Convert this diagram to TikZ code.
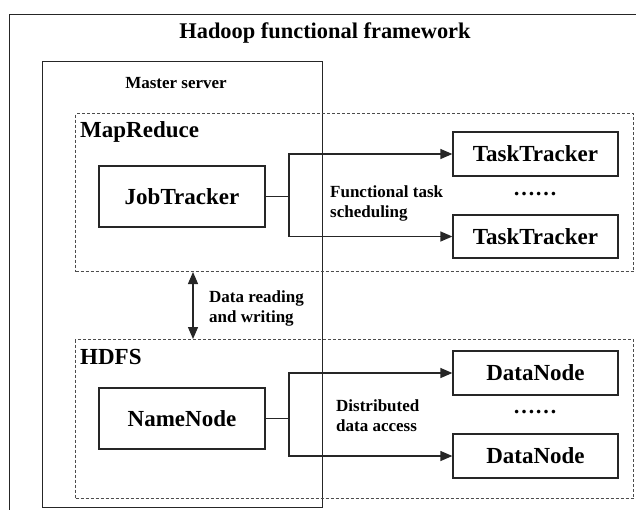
\documentclass[tikz,border=0pt]{standalone}
\usepackage{fontspec}
\setmainfont{Liberation Serif}
\usetikzlibrary{arrows.meta}
\begin{document}
\begin{tikzpicture}[x=1pt,y=-1pt,
  solidbox/.style={draw=black!85, line width=1.3pt, minimum width=166pt, inner sep=0pt, font=\bfseries\fontsize{23}{26}\selectfont},
  sidebox/.style={draw=black!85, line width=1.3pt, minimum width=165pt, minimum height=44pt, inner sep=0pt, font=\bfseries\fontsize{23}{26}\selectfont},
  dashbox/.style={draw=black!70, line width=1pt, dash pattern=on 3pt off 2pt, inner sep=0pt},
  plainbox/.style={draw=black!85, line width=1.3pt, inner sep=0pt},
  lbl/.style={font=\bfseries\fontsize{17}{20}\selectfont, align=left, inner sep=0pt},
  conn/.style={line width=1.3pt, draw=black!85},
  arr/.style={conn, -{Triangle[length=12pt,width=10pt]}},
  darr/.style={conn, {Triangle[length=12pt,width=10pt]}-{Triangle[length=12pt,width=10pt]}}
]
\useasboundingbox (0,0) rectangle (636,509);
\fill[white] (0,0) rectangle (636,509);
\begin{scope}
\clip (0,0) rectangle (636,509);
\node[plainbox, minimum width=660pt, minimum height=530pt, anchor=north west] (outer) at (9,14) {};
\end{scope}
\node[font=\bfseries\fontsize{22.4}{25}\selectfont, inner sep=0pt] (title) at (325,33) {Hadoop functional framework};

% Master server box
\node[plainbox, minimum width=280pt, minimum height=446pt, anchor=north west] (master) at (42,61) {};
\node[lbl, font=\bfseries\fontsize{17}{20}\selectfont] (mastert) at (176,83) {Master server};

% MapReduce
\node[dashbox, minimum width=558pt, minimum height=158pt, anchor=north west] (mr) at (75,113) {};
\node[lbl, font=\bfseries\fontsize{23}{26}\selectfont, anchor=west] (mrt) at (80,132) {MapReduce};
\node[solidbox, minimum height=61pt] (job) at (182,196.5) {JobTracker};
\node[sidebox] (tt1) at (535.5,154) {TaskTracker};
\node[sidebox, minimum height=43pt] (tt2) at (535.5,236.5) {TaskTracker};
\node[font=\bfseries\fontsize{22}{24}\selectfont, inner sep=0pt] (dots1) at (535,194) {……};
\coordinate (j1) at (289,196.5);
\draw[conn] (job.east) -- (j1);
\draw[arr] (j1) |- (tt1.west);
\draw[arr] (j1) |- (tt2.west);
\node[lbl, anchor=west] (fts) at (330,203) {Functional task\\scheduling};

% Data reading arrow
\coordinate (dra) at (193,300);
\node[dashbox, minimum width=558pt, minimum height=159pt, anchor=north west] (hdfs) at (75,339) {};
\draw[darr] (mr.south -| dra) -- (hdfs.north -| dra);
\node[lbl, anchor=west] (drw) at (209,308) {Data reading\\and writing};

% HDFS
\node[lbl, font=\bfseries\fontsize{23}{26}\selectfont, anchor=west] (hdfst) at (80,357) {HDFS};
\node[solidbox, minimum height=61pt] (nn) at (182,418.5) {NameNode};
\node[sidebox] (dn1) at (535.5,373) {DataNode};
\node[sidebox] (dn2) at (535.5,456) {DataNode};
\node[font=\bfseries\fontsize{22}{24}\selectfont, inner sep=0pt] (dots2) at (535,412) {……};
\coordinate (j2) at (289,418.5);
\draw[conn] (nn.east) -- (j2);
\draw[arr] (j2) |- (dn1.west);
\draw[arr] (j2) |- (dn2.west);
\node[lbl, anchor=west] (dda) at (336,416) {Distributed\\data access};
\end{tikzpicture}
\end{document}
